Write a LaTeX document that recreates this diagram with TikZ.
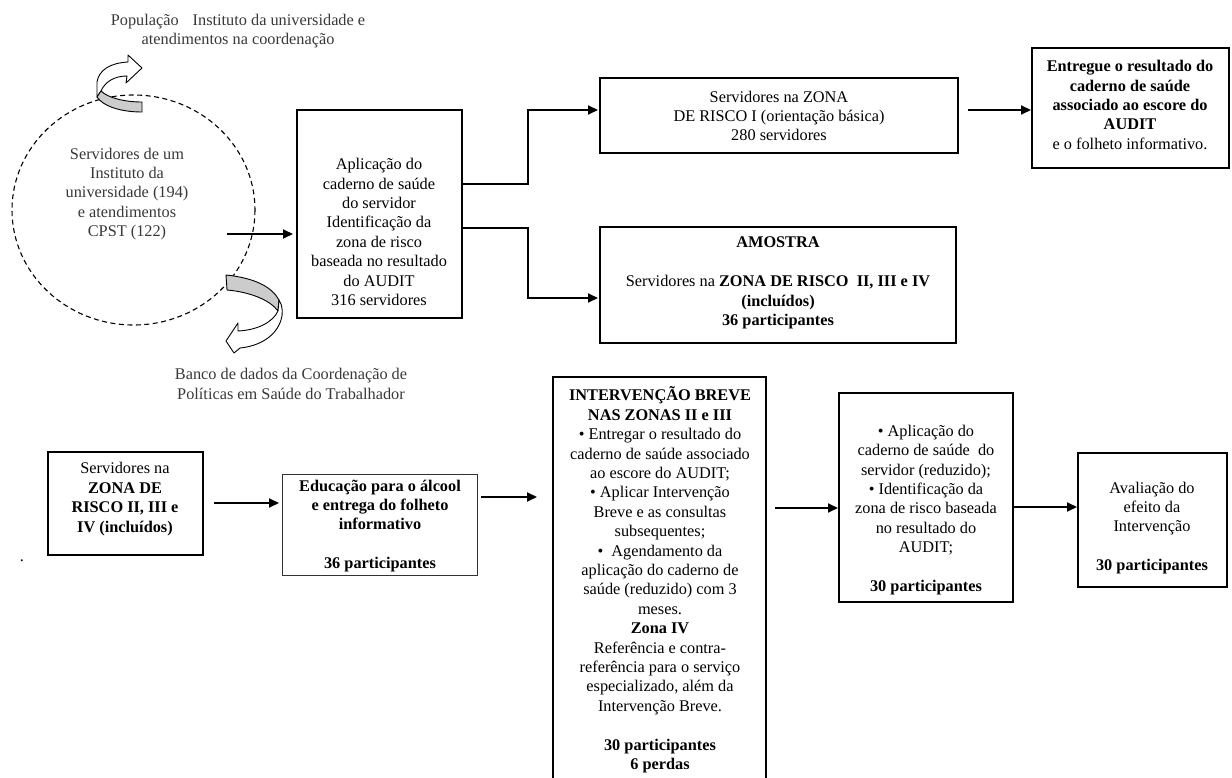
\documentclass[tikz,border=0pt]{standalone}
\usepackage{fontspec}
\setmainfont{Liberation Serif}
\usetikzlibrary{arrows.meta,calc}
\begin{document}
\begin{tikzpicture}[x=1pt,y=-1pt,
  box/.style={draw, line width=1.6pt, inner sep=0pt, outer sep=0pt, anchor=north west},
  thickbox/.style={box, line width=2.6pt},
  thinbox/.style={box, line width=1pt, draw=black!80},
  txt/.style={align=center, font=\fontsize{16.3}{19.4}\selectfont, inner sep=0pt},
  freetxt/.style={txt, text=black!78},
  arr/.style={line width=1.9pt, -{Triangle[length=10pt,width=9pt]}},
  ribbon/.style={draw, line width=0.9pt, line join=round}]
\useasboundingbox (0,0) rectangle (1232,778);

% dashed population circle
\draw[dash pattern=on 5pt off 3.5pt, line width=1.1pt] (133.5,210) ellipse [x radius=121.5, y radius=115];

% top ribbon arrow
\filldraw[ribbon, fill=white] (97,97) -- (97,82) .. controls (99,70) and (110,63) .. (128,62) -- (128,55) -- (142,68) -- (126,83) -- (127,76) .. controls (114,76) and (105,82) .. (101,91) -- cycle;
\filldraw[ribbon, fill=black!20] (101,91) .. controls (108,98) and (125,102) .. (142,102) -- (142,112) .. controls (120,112) and (103,106) .. (97,97) -- cycle;

% bottom ribbon arrow
\filldraw[ribbon, fill=black!20] (226,275) .. controls (255,278) and (272,287) .. (279,300) -- (278,311) .. controls (270,300) and (250,292) .. (227,290) -- cycle;
\filldraw[ribbon, fill=white] (279,300) .. controls (283,306) and (283,314) .. (281,320) .. controls (276,336) and (260,346) .. (240,348) -- (234,353) -- (226,341) -- (238,323) -- (238,331) .. controls (258,330) and (273,322) .. (278,311) -- cycle;

% free texts
\node[freetxt] (toptxt) at (238,31) {População\hspace{14pt}Instituto da universidade e\\atendimentos na coordenação};
\node[freetxt] (circtxt) at (127,194) {Servidores de um\\Instituto da\\universidade (194)\\e atendimentos\\CPST (122)};
\node[freetxt] (banco) at (291,384) {Banco de dados da Coordenação de\\Políticas em Saúde do Trabalhador};
\node[txt] (dot) at (22,561) {.};

% boxes
\node[box, minimum width=165pt, minimum height=208pt] (b1) at (297,110) {};
\node[box, minimum width=358pt, minimum height=75pt] (zonaI) at (600,78) {};
\node[thickbox, minimum width=197pt, minimum height=120pt] (entregue) at (1032,48) {};
\node[box, minimum width=356pt, minimum height=116pt] (amostra) at (600,227) {};
\node[thickbox, minimum width=155pt, minimum height=103pt] (srv) at (48,452) {};
\node[thinbox, minimum width=195pt, minimum height=101pt] (edu) at (282,474) {};
\node[box, minimum width=213pt, minimum height=440pt] (interv) at (553,377) {};
\node[box, minimum width=174pt, minimum height=209pt] (red) at (839,393) {};
\node[thickbox, minimum width=149pt, minimum height=134pt] (aval) at (1078,453) {};

% box texts
\node[txt] (t1) at (379,232) {Aplicação do\\caderno de saúde\\do servidor\\Identificação da\\zona de risco\\baseada no resultado\\do AUDIT\\316 servidores};
\node[txt] (tzonaI) at (779,116) {Servidores na ZONA\\DE RISCO I (orientação básica)\\280 servidores};
\node[txt] (tentregue) at (1130,105) {\textbf{Entregue o resultado do}\\\textbf{caderno de saúde}\\\textbf{associado ao escore do}\\\textbf{AUDIT}\\e o folheto informativo.};
\node[txt] (tamostra) at (778,283) {\textbf{AMOSTRA}\\[19.4pt]Servidores na \textbf{ZONA DE RISCO\ \ II, III e IV}\\\textbf{(incluídos)}\\\textbf{36 participantes}};
\node[txt] (tsrv) at (125,499) {Servidores na\\\textbf{ZONA DE}\\\textbf{RISCO II, III e}\\\textbf{IV (incluídos)}};
\node[txt] (tedu) at (380,526) {\textbf{Educação para o álcool}\\\textbf{e entrega do folheto}\\\textbf{informativo}\\[19.4pt]\textbf{36 participantes}};
\node[txt] (tinterv) at (660,580) {\textbf{INTERVENÇÃO BREVE}\\\textbf{NAS ZONAS II e III}\\• Entregar o resultado do\\caderno de saúde associado\\ao escore do AUDIT;\\• Aplicar Intervenção\\Breve e as consultas\\subsequentes;\\•\ \ Agendamento da\\aplicação do caderno de\\saúde (reduzido) com 3\\meses.\\\textbf{Zona IV}\\Referência e contra-\\referência para o serviço\\especializado, além da\\Intervenção Breve.\\[19.4pt]\textbf{30 participantes}\\\textbf{6 perdas}};
\node[txt] (tred) at (926,510) {• Aplicação do\\caderno de saúde\ \ do\\servidor (reduzido);\\• Identificação da\\zona de risco baseada\\no resultado do\\AUDIT;\\[19.4pt]\textbf{30 participantes}};
\node[txt] (taval) at (1152,528) {Avaliação do\\efeito da\\Intervenção\\[19.4pt]\textbf{30 participantes}};

% connectors
\coordinate (cstart) at (227,234);
\draw[arr, shorten >=4pt] (cstart) -- (cstart -| b1.west);
\draw[arr, shorten >=2pt] (b1.east |- 0,184) -- (528,184) -- (528,110) -- (zonaI.west |- 0,110);
\draw[arr, shorten >=2pt] (b1.east |- 0,228) -- (528,228) -- (528,298) -- (amostra.west |- 0,298);
\draw[arr, shorten <=10pt, shorten >=1pt] (zonaI.east |- 0,110) -- (entregue.west |- 0,110);
\draw[arr, shorten <=11pt, shorten >=3pt] (srv.east |- 0,503) -- (edu.west |- 0,503);
\draw[arr, shorten <=4pt, shorten >=16pt] (edu.east |- 0,497) -- (interv.west |- 0,497);
\draw[arr, shorten <=9pt, shorten >=1pt] (interv.east |- 0,508) -- (red.west |- 0,508);
\draw[arr, shorten >=1pt] (red.east |- 0,507) -- (aval.west |- 0,507);
\end{tikzpicture}
\end{document}
